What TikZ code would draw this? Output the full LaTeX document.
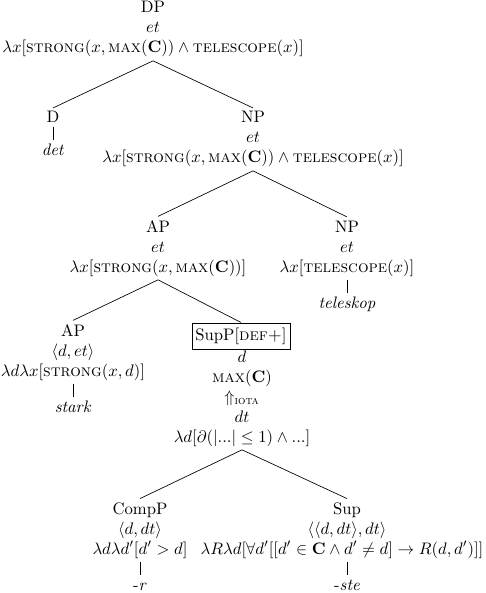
\documentclass[tikz,border=0pt]{standalone}
\usepackage{amsmath,amssymb}
\usepackage{tikz}
\usetikzlibrary{positioning}

\begin{document}
\begin{tikzpicture}[
    x=0.6pt, y=-0.6pt,
    node distance=8pt,
    cat/.style={align=center, anchor=base, inner sep=2pt, font=\fontsize{10pt}{12pt}\selectfont},
    supbox/.style={rectangle, draw, anchor=base, inner xsep=2pt, inner ysep=2.8pt},
    word/.style={inner sep=2pt, text height=6.9pt, text depth=1.9pt},
    branch/.style={-}
]
\useasboundingbox (0,0) rectangle (485,593);

% Root
\node[cat] (dp) at (153,53) {DP\\$et$\\$\lambda x[\textsc{strong}(x,\textsc{max}(\mathbf{C}))\wedge\textsc{telescope}(x)]$};

% Determiner and noun phrase
\node[cat] (d) at (53,123) {D};
\node[word, below=of d] (det) {\textit{det}};
\node[cat] (np) at (253,163) {NP\\$et$\\$\lambda x[\textsc{strong}(x,\textsc{max}(\mathbf{C}))\wedge\textsc{telescope}(x)]$};

% Adjective phrase and noun
\node[cat] (ap) at (158,272) {AP\\$et$\\$\lambda x[\textsc{strong}(x,\textsc{max}(\mathbf{C}))]$};
\node[cat] (npb) at (347,272) {NP\\$et$\\$\lambda x[\textsc{telescope}(x)]$};
\node[word, below=of npb] (tele) {\textit{teleskop}};

% Adjective and superlative phrase
\node[cat] (apb) at (73,376) {AP\\$\langle d,et\rangle$\\$\lambda d\lambda x[\textsc{strong}(x,d)]$};
\node[word, below=of apb] (stark) {\textit{stark}};
\node[supbox] (supp) at (241,340) {SupP[\textsc{def+}]};
\node[cat] (suppsem) at (242,442) {$d$\\$\textsc{max}(\mathbf{C})$\\$\Uparrow_{\textsc{iota}}$\\$dt$\\$\lambda d[\partial(|...|\leq 1)\wedge ...]$};

% Comparative and superlative morphemes
\node[cat] (compp) at (140,554) {CompP\\$\langle d,dt\rangle$\\$\lambda d\lambda d'[d'>d]$};
\node[word, below=of compp] (r) {-\textit{r}};
\node[cat] (sup) at (347,554) {Sup\\$\langle\langle d,dt\rangle,dt\rangle$\\%
  $\lambda R\lambda d[\forall d'[[d'\in\mathbf{C}\wedge d'\neq d]\rightarrow R(d,d')]]$\hspace*{6pt}};
\node[word, below=of sup] (ste) {-\textit{ste}};

% Branches
\draw[branch] (dp.south) -- (d.north);
\draw[branch] (dp.south) -- (np.north);
\draw[branch] (d.south) -- (det.north);
\draw[branch] (np.south) -- (ap.north);
\draw[branch] (np.south) -- (npb.north);
\draw[branch] (npb.south) -- (tele.north);
\draw[branch] (ap.south) -- (apb.north);
\draw[branch] (ap.south) -- (supp.north);
\draw[branch] (apb.south) -- (stark.north);
\draw[branch] (suppsem.south) -- (compp.north);
\draw[branch] (suppsem.south) -- (sup.north);
\draw[branch] (compp.south) -- (r.north);
\draw[branch] (sup.south) -- (ste.north);

\end{tikzpicture}
\end{document}
